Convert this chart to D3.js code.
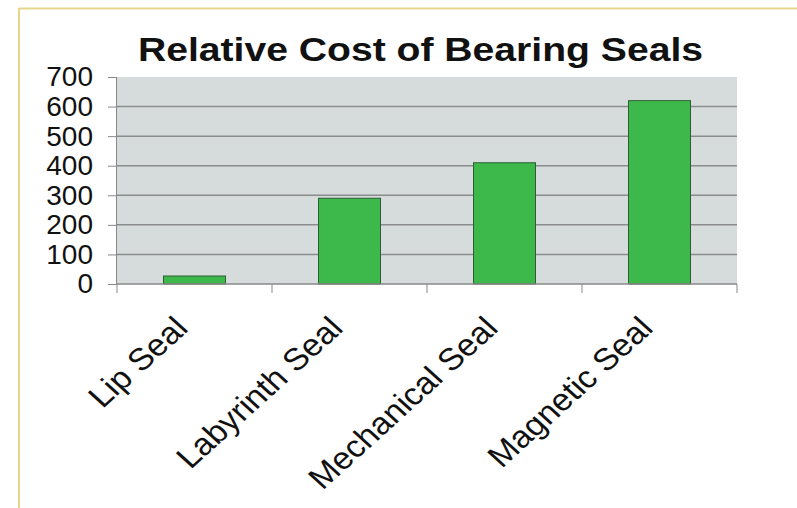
<!DOCTYPE html>
<html>
<head>
<meta charset="utf-8">
<script src="https://cdn.jsdelivr.net/npm/d3@7"></script>
<style>
  body { margin: 0; background: #fff; }
  text { font-family: Arial, "Liberation Sans", sans-serif; fill: #111; }
</style>
</head>
<body>
<div id="chart"></div>
<script>
// data
var categories = ["Lip Seal", "Labyrinth Seal", "Mechanical Seal", "Magnetic Seal"];
var costs = [27, 290, 410, 620];
var yTicks = [0, 100, 200, 300, 400, 500, 600, 700];

var svgWidth = 797;
var svgHeight = 508;

var margin = { top: 77, right: 60, bottom: 224, left: 117 };
var width = svgWidth - margin.left - margin.right;   // 620
var height = svgHeight - margin.top - margin.bottom; // 207

var svg = d3.select("#chart").append("svg")
  .attr("width", svgWidth)
  .attr("height", svgHeight);

// yellow slide frame
svg.append("line").attr("x1", 19).attr("x2", svgWidth).attr("y1", 8.5).attr("y2", 8.5)
  .attr("stroke", "#e6d68c").attr("stroke-width", 2);
svg.append("line").attr("x1", 19).attr("x2", 19).attr("y1", 8).attr("y2", svgHeight)
  .attr("stroke", "#e6d68c").attr("stroke-width", 2);

// title
svg.append("text")
  .attr("x", 420.5)
  .attr("y", 61)
  .attr("text-anchor", "middle")
  .attr("font-size", 34)
  .attr("font-weight", "bold")
  .attr("textLength", 565)
  .attr("lengthAdjust", "spacingAndGlyphs")
  .text("Relative Cost of Bearing Seals");

var chartGroup = svg.append("g")
  .attr("transform", `translate(${margin.left}, ${margin.top})`);

var x = d3.scaleBand()
  .domain(categories)
  .range([0, width])
  .paddingInner(0.6)
  .paddingOuter(0.3);

var y = d3.scaleLinear()
  .domain([0, 700])
  .range([height, 0]);

// plot area
chartGroup.append("rect")
  .attr("width", width)
  .attr("height", height)
  .attr("fill", "#d6dcdc");

// gridlines
chartGroup.selectAll(".grid")
  .data(yTicks.filter(d => d > 0 && d < 700))
  .enter().append("line")
  .attr("x1", 0).attr("x2", width)
  .attr("y1", d => y(d)).attr("y2", d => y(d))
  .attr("stroke", "#8a8c8c")
  .attr("stroke-width", 1.5);

// bars
chartGroup.selectAll(".bar")
  .data(costs)
  .enter().append("rect")
  .attr("x", (d, i) => x(categories[i]))
  .attr("y", d => y(d))
  .attr("width", x.bandwidth())
  .attr("height", d => height - y(d))
  .attr("fill", "#3db84a")
  .attr("stroke", "#2d5e33")
  .attr("stroke-width", 1);

// y axis
var leftAxis = d3.axisLeft(y).tickValues(yTicks).tickSize(9).tickPadding(15);
var yAxis = chartGroup.append("g").call(leftAxis);
yAxis.select(".domain").attr("stroke", "#888").attr("d", `M-0.5,0V${height}`);
yAxis.selectAll(".tick line").attr("stroke", "#888");
yAxis.selectAll(".tick text")
  .attr("font-size", 28)
  .attr("fill", "#111")
  .attr("font-family", "Arial, 'Liberation Sans', sans-serif");

// x axis: boundary ticks between categories
var step = x.step();
var bounds = d3.range(categories.length + 1).map(i => i * step);
chartGroup.append("line")
  .attr("x1", 0).attr("x2", width)
  .attr("y1", height).attr("y2", height)
  .attr("stroke", "#888").attr("stroke-width", 1.5);
chartGroup.selectAll(".xtick")
  .data(bounds)
  .enter().append("line")
  .attr("x1", d => d).attr("x2", d => d)
  .attr("y1", height).attr("y2", height + 9)
  .attr("stroke", "#888");

// rotated category labels
chartGroup.selectAll(".xlabel")
  .data(categories)
  .enter().append("text")
  .attr("text-anchor", "end")
  .attr("font-size", 31)
  .attr("transform", d => `translate(${x(d) + x.bandwidth() / 2 - 5}, ${height + 46}) scale(1.1,1) rotate(-45)`)
  .text(d => d);
</script>
</body>
</html>
